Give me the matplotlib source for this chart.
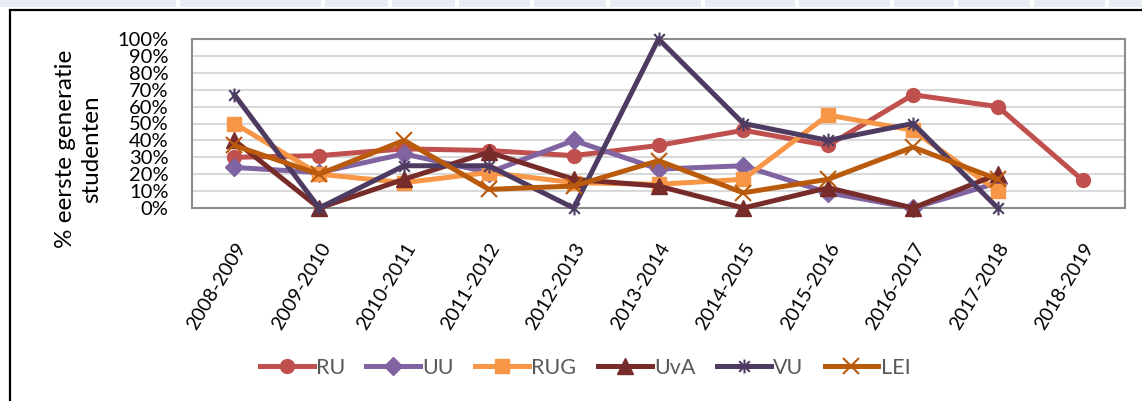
import numpy as np
import matplotlib.pyplot as plt
from matplotlib.path import Path
from matplotlib.patches import Rectangle

plt.rcParams['font.family'] = ['Lato', 'DejaVu Sans']

# data
jaren = ['2008-2009', '2009-2010', '2010-2011', '2011-2012', '2012-2013', '2013-2014',
         '2014-2015', '2015-2016', '2016-2017', '2017-2018', '2018-2019']
ru = [0.30, 0.31, 0.35, 0.34, 0.31, 0.37, 0.46, 0.37, 0.67, 0.60, 0.165]
uu = [0.24, 0.21, 0.32, 0.21, 0.40, 0.23, 0.25, 0.09, 0.0, 0.15, np.nan]
rug = [0.50, 0.20, 0.15, 0.21, 0.15, 0.14, 0.17, 0.55, 0.46, 0.10, np.nan]
uva = [0.40, 0.0, 0.17, 0.33, 0.17, 0.13, 0.0, 0.12, 0.0, 0.20, np.nan]
vu = [0.67, 0.0, 0.25, 0.25, 0.0, 1.0, 0.50, 0.40, 0.50, 0.0, np.nan]
lei = [0.37, 0.20, 0.40, 0.11, 0.13, 0.28, 0.09, 0.17, 0.36, 0.17, np.nan]

# asterisk marker voor VU
ster = Path([(-1, -1), (1, 1), (-1, 1), (1, -1), (0, -1.3), (0, 1.3)],
            [Path.MOVETO, Path.LINETO, Path.MOVETO, Path.LINETO, Path.MOVETO, Path.LINETO])

series = [
    ('RU', ru, '#C0504D', 'o', 10, 1),
    ('UU', uu, '#8064A2', 'D', 9, 1),
    ('RUG', rug, '#F79646', 's', 10.5, 1),
    ('UvA', uva, '#772C2A', '^', 11, 1),
    ('VU', vu, '#4D3B62', ster, 10, 1.5),
    ('LEI', lei, '#BA5A0C', 'x', 12, 1.5),
]

fig = plt.figure(figsize=(11.42, 4.01), dpi=100)

# stukje tabel boven de figuur
for x0, x1 in [(0, 176), (180, 321), (325, 388), (392, 455), (459, 530), (534, 606),
               (610, 701), (705, 795), (799, 890), (894, 954), (958, 1030), (1034, 1105), (1109, 1142)]:
    fig.patches.append(Rectangle((x0 / 1142, 394 / 401), (x1 - x0) / 1142, 7 / 401,
                                 transform=fig.transFigure, color='#E8ECF4', lw=0))
# rand om de grafiek
fig.patches.append(Rectangle((10 / 1142, -0.05), 1.1, (391 / 401) + 0.05, transform=fig.transFigure,
                             fill=False, edgecolor='black', lw=1.6))

ax = fig.add_axes([192 / 1142, 1 - 208 / 401, 933 / 1142, 169 / 401])
x = np.arange(len(jaren))
for naam, vals, kleur, mk, ms, mew in series:
    fc = 'none' if naam in ('VU', 'LEI') else kleur
    ax.plot(x, vals, color=kleur, lw=3.6, marker=mk, markersize=ms, markerfacecolor=fc,
            markeredgecolor=kleur, markeredgewidth=mew, label=naam, clip_on=False, zorder=3)

ax.set_xlim(-0.5, len(jaren) - 0.5)
ax.set_ylim(0, 1)
ax.set_yticks(np.arange(0, 1.01, 0.1))
ax.set_yticklabels([f'{int(round(v * 100))}%' for v in np.arange(0, 1.01, 0.1)], fontsize=14.5)
ax.set_xticks(x)
ax.set_xticklabels(jaren, rotation=59, ha='right', rotation_mode='anchor', fontsize=14)
ax.tick_params(length=0)
ax.tick_params(axis='y', pad=17)
ax.tick_params(axis='x', pad=23)
ax.grid(axis='y', color='#D9D9D9', lw=1.5, zorder=0)
for s in ax.spines.values():
    s.set_color('#8C8C8C')
    s.set_linewidth(1.5)

fig.text(79 / 1142, 1 - 149 / 401, '% eerste generatie\nstudenten', rotation=90,
         ha='center', va='center', fontsize=17.5, linespacing=1.3)

leg = fig.legend(loc='center', bbox_to_anchor=(585 / 1142, 1 - 368 / 401), ncol=6, frameon=False,
                 fontsize=15.5, handlelength=2.5, columnspacing=1.0, handletextpad=0.1)
for t in leg.get_texts():
    t.set_color('#595959')

fig.savefig('out.png', dpi=100)
